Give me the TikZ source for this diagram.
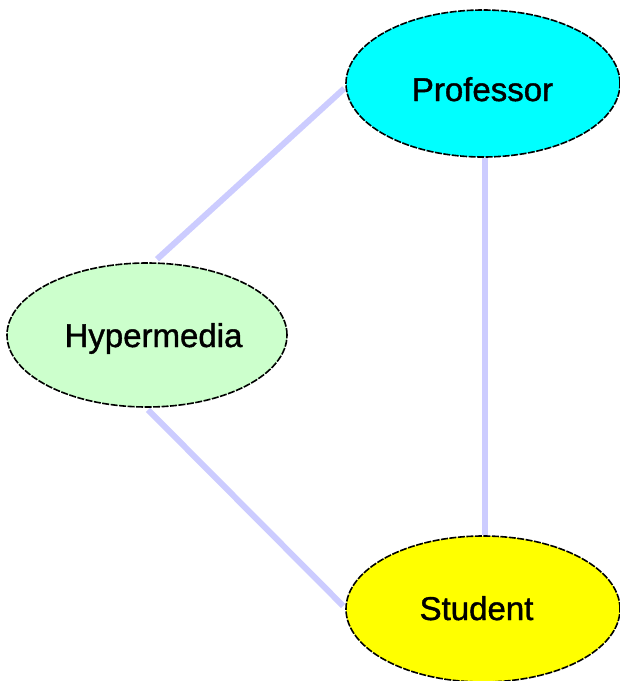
\documentclass[tikz,border=0pt]{standalone}
\usepackage{fontspec}
\setmainfont{Liberation Sans}
\newfontfamily\lblfont{Liberation Sans}[FakeBold=1.2]
\usetikzlibrary{shapes.geometric}
\definecolor{edgecol}{HTML}{CCCCFF}
\definecolor{profcol}{HTML}{00FFFF}
\definecolor{hypcol}{HTML}{CCFFCC}
\definecolor{studcol}{HTML}{FFFF00}
\pgfdeclarelayer{bg}
\pgfsetlayers{bg,main}
\tikzset{
  ent/.style={ellipse, draw=black, line width=1.6pt, dash pattern=on 7pt off 1.5pt, inner sep=0pt},
  lbl/.style={anchor=base, inner sep=0pt, font=\lblfont\fontsize{33}{36}\selectfont},
  link/.style={draw=edgecol, line width=6pt}
}
\begin{document}
\begin{tikzpicture}[x=1pt,y=1pt]
\useasboundingbox (0,0) rectangle (620,-681);
\node[ent, fill=profcol, minimum width=274pt, minimum height=147pt] (prof) at (483,-83.5) {};
\node[ent, fill=hypcol, minimum width=280pt, minimum height=144pt] (hyp) at (147,-335) {};
\node[ent, fill=studcol, minimum width=274pt, minimum height=146pt] (stud) at (483,-609) {};
\node[lbl] (profT) at (482.5,-101) {Professor};
\node[lbl] (hypT) at (153.5,-347) {Hypermedia};
\node[lbl] (studT) at (476.5,-620) {Student};
\begin{pgfonlayer}{bg}
\draw[link] ([xshift=10pt,yshift=3pt]hyp.north) -- ([xshift=-1pt,yshift=-5pt]prof.west);
\draw[link] ([xshift=2pt]prof.south) -- ([xshift=2pt]stud.north);
\draw[link] ([xshift=1pt,yshift=-2pt]hyp.south) -- ([xshift=-2pt,yshift=3pt]stud.west);
\end{pgfonlayer}
\end{tikzpicture}
\end{document}
